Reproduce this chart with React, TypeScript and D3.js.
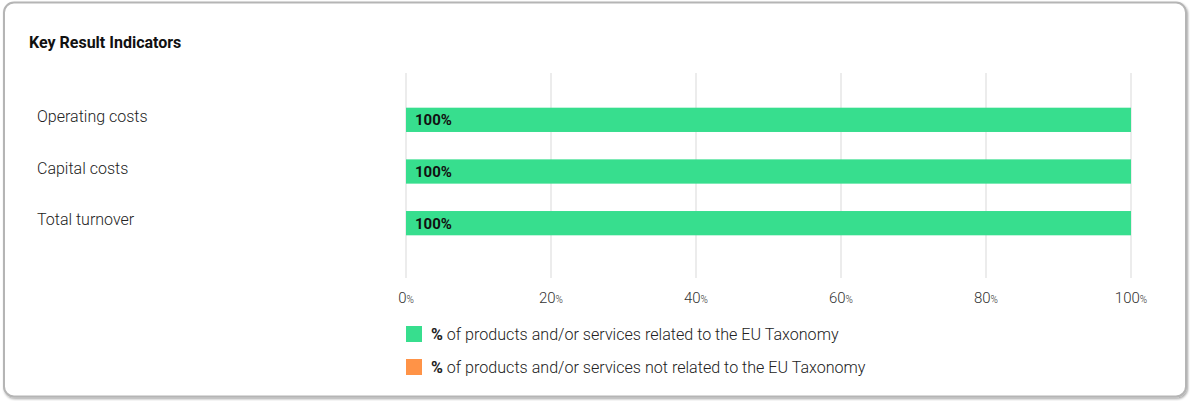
// @ts-nocheck
import React from "react";
import * as d3 from "d3";

const categories = ["Operating costs", "Capital costs", "Total turnover"];
const relatedValues = [100, 100, 100];
const notRelatedValues = [0, 0, 0];
const xTicks = [0, 20, 40, 60, 80, 100];
const legendItems = [
  { label: "of products and/or services related to the EU Taxonomy", color: "#37de8e" },
  { label: "of products and/or services not related to the EU Taxonomy", color: "#ff9347" },
];

const W = 1191;
const H = 401;

const App = () => {
  const svgRef = React.useRef(null);

  React.useEffect(() => {
    const svg = d3.select(svgRef.current);
    svg.selectAll("*").remove();

    const defs = svg.append("defs");
    const filter = defs.append("filter").attr("id", "shadow").attr("x", "-5%").attr("y", "-5%").attr("width", "110%").attr("height", "115%");
    filter.append("feDropShadow").attr("dx", 1).attr("dy", 1.5).attr("stdDeviation", 1).attr("flood-color", "#000").attr("flood-opacity", 0.35);

    // card
    svg.append("rect")
      .attr("x", 4).attr("y", 2.5).attr("width", 1182).attr("height", 394)
      .attr("rx", 10)
      .attr("fill", "#fff")
      .attr("stroke", "#b5b5b5")
      .attr("stroke-width", 2)
      .attr("filter", "url(#shadow)");

    svg.append("text")
      .attr("x", 29).attr("y", 48)
      .attr("font-family", "Roboto")
      .attr("font-weight", 700)
      .attr("font-size", 16)
      .attr("fill", "#111")
      .text("Key Result Indicators");

    const x = d3.scaleLinear().domain([0, 100]).range([406, 1131]);
    const y = d3.scaleBand().domain(categories).range([94, 249]).paddingInner(0.53).paddingOuter(0.265);

    // grid
    svg.append("g").selectAll("line").data(xTicks).enter().append("line")
      .attr("x1", (d) => x(d)).attr("x2", (d) => x(d))
      .attr("y1", 73).attr("y2", 278)
      .attr("stroke", "#e6e6e6").attr("stroke-width", 1.5);

    // tick labels
    const tl = svg.append("g").selectAll("text").data(xTicks).enter().append("text")
      .attr("x", (d) => x(d)).attr("y", 303)
      .attr("text-anchor", "middle")
      .attr("font-family", "Roboto")
      .attr("font-weight", 300)
      .attr("fill", "#333");
    tl.append("tspan").attr("font-size", 15).text((d) => d);
    tl.append("tspan").attr("font-size", 10).text("%");

    // bars
    const rows = categories.map((c, i) => ({ c, rel: relatedValues[i], not: notRelatedValues[i] }));
    svg.append("g").selectAll("rect").data(rows).enter().append("rect")
      .attr("x", x(0)).attr("y", (d) => y(d.c))
      .attr("width", (d) => x(d.rel) - x(0))
      .attr("height", y.bandwidth())
      .attr("fill", legendItems[0].color);
    svg.append("g").selectAll("rect").data(rows).enter().append("rect")
      .attr("x", (d) => x(d.rel)).attr("y", (d) => y(d.c))
      .attr("width", (d) => x(d.rel + d.not) - x(d.rel))
      .attr("height", y.bandwidth())
      .attr("fill", legendItems[1].color);

    svg.append("g").selectAll("text").data(rows).enter().append("text")
      .attr("x", x(0) + 9).attr("y", (d) => y(d.c) + y.bandwidth() / 2 + 5.5)
      .attr("font-family", "Roboto")
      .attr("font-weight", 700)
      .attr("font-size", 15)
      .attr("fill", "#111")
      .text((d) => `${d.rel}%`);

    // category labels
    svg.append("g").selectAll("text").data(categories).enter().append("text")
      .attr("x", 37).attr("y", (d) => y(d) + y.bandwidth() / 2 + 2)
      .attr("font-family", "Roboto")
      .attr("font-weight", 300)
      .attr("font-size", 16)
      .attr("fill", "#222")
      .text((d) => d);

    // legend
    const lg = svg.append("g").selectAll("g").data(legendItems).enter().append("g")
      .attr("transform", (d, i) => `translate(406, ${326 + i * 33})`);
    lg.append("rect").attr("width", 16).attr("height", 16).attr("fill", (d) => d.color);
    const lt = lg.append("text").attr("x", 25).attr("y", 14)
      .attr("font-family", "Roboto").attr("font-size", 16.1).attr("font-weight", 300).attr("fill", "#222");
    lt.append("tspan").attr("font-weight", 700).text("%");
    lt.append("tspan").text((d) => " " + d.label);
  }, []);

  return <svg ref={svgRef} width={W} height={H} style={{ position: "absolute", left: 0, top: 0 }} />;
};

export default App;
